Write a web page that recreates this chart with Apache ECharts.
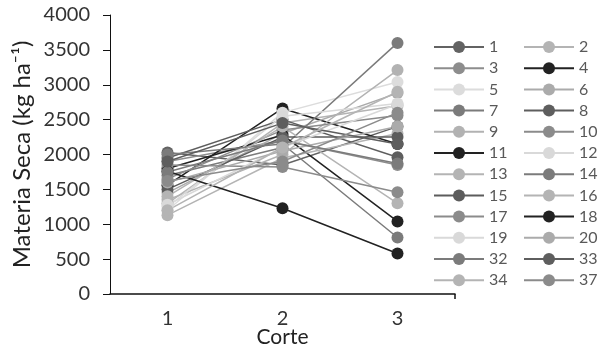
<!DOCTYPE html>
<html>
<head>
<meta charset="utf-8">
<script src="https://cdn.jsdelivr.net/npm/echarts@6/dist/echarts.min.js"></script>
<style>
  html, body { margin: 0; padding: 0; background: #fff; }
  #chart { width: 600px; height: 348px; }
</style>
</head>
<body>
<div id="chart"></div>
<script>
// Cutting rounds on the x axis
const cortes = ['1', '2', '3'];

// Dry matter per line (kg/ha) at each cut
const names = ['1','2','3','4','5','6','7','8','9','10','11','12','13','14','15','16','17','18','19','20','32','33','34','37'];
const s1  = [2030, 1850, 2400];
const s2  = [1300, 2450, 2700];
const s3  = [1900, 2200, 1850];
const s4  = [1560, 2660, 2150];
const s5  = [1200, 2600, 3040];
const s6  = [1450, 2300, 2880];
const s7  = [1700, 2100, 3600];
const s8  = [1950, 2500, 1960];
const s9  = [1350, 2000, 3210];
const s10 = [1650, 2350, 2560];
const s11 = [1800, 2280, 1040];
const s12 = [1250, 2550, 2730];
const s13 = [1130, 1950, 2300];
const s14 = [2000, 2150, 810];
const s15 = [1500, 2250, 2250];
const s16 = [1400, 2400, 1300];
const s17 = [1850, 1820, 1460];
const s18 = [1760, 1230, 580];
const s19 = [1280, 2100, 2720];
const s20 = [1600, 2050, 2400];
const s32 = [1750, 2200, 1870];
const s33 = [1900, 2450, 2150];
const s34 = [1200, 2100, 2900];
const s37 = [1620, 1900, 2600];
const values = [s1,s2,s3,s4,s5,s6,s7,s8,s9,s10,s11,s12,s13,s14,s15,s16,s17,s18,s19,s20,s32,s33,s34,s37];

// Grey shade for each line
const shades = ['#636363','#b4b4b4','#8d8d8d','#222222','#dcdcdc','#ababab','#7b7b7b','#5e5e5e',
                '#b2b2b2','#8b8b8b','#222222','#d9d9d9','#b4b4b4','#7b7b7b','#5c5c5c','#b4b4b4',
                '#8b8b8b','#222222','#d9d9d9','#ababab','#7b7b7b','#5e5e5e','#b4b4b4','#8b8b8b'];

const yTicks = [0, 500, 1000, 1500, 2000, 2500, 3000, 3500, 4000];

const FONT = 'Lato';

const series = names.map((n, i) => ({
  name: n,
  type: 'line',
  xAxisIndex: 0,
  data: values[i],
  symbol: 'circle',
  symbolSize: 12,
  lineStyle: { width: 1.5, color: shades[i] },
  itemStyle: { color: shades[i] },
  emphasis: { disabled: true },
  animation: false
}));

const legendBase = {
  orient: 'vertical',
  top: 39,
  padding: 0,
  itemWidth: 50,
  itemHeight: 15,
  itemGap: 5.2,
  textStyle: { fontFamily: FONT, fontSize: 16, color: '#595959' },
  selectedMode: false
};

const chart = echarts.init(document.getElementById('chart'), null, { renderer: 'canvas' });
chart.setOption({
  backgroundColor: '#fff',
  animation: false,
  grid: { left: 110, right: 145, top: 15, bottom: 54, containLabel: false, outerBoundsMode: 'none' },
  legend: [
    Object.assign({}, legendBase, { left: 433, data: names.filter((_, i) => i % 2 === 0) }),
    Object.assign({}, legendBase, { left: 523, data: names.filter((_, i) => i % 2 === 1) })
  ],
  xAxis: [
    {
      type: 'category',
      data: cortes,
      boundaryGap: true,
      name: 'Corte',
      nameLocation: 'middle',
      nameGap: 33,
      nameMoveOverlap: false,
      nameTextStyle: { fontFamily: FONT, fontSize: 21, color: '#222' },
      axisLine: { lineStyle: { color: '#111', width: 1.5 } },
      axisTick: { alignWithLabel: true, length: 5, lineStyle: { color: '#111', width: 1.5 } },
      axisLabel: { fontFamily: FONT, fontSize: 20, color: '#333', margin: 15 }
    },
    {
      // closing tick at the right end of the category axis
      type: 'value',
      position: 'bottom',
      min: 0,
      max: 3,
      axisLine: { show: false },
      axisTick: { show: true, customValues: [3], length: 5, lineStyle: { color: '#111', width: 1.5 } },
      axisLabel: { show: false },
      splitLine: { show: false }
    }
  ],
  yAxis: {
    type: 'value',
    min: 0,
    max: 4000,
    interval: 500,
    name: 'Materia Seca (kg ha\u207B\u00B9)',
    nameLocation: 'middle',
    nameRotate: 90,
    nameGap: 76,
    nameMoveOverlap: false,
    nameTextStyle: { fontFamily: FONT, fontSize: 24, color: '#222' },
    axisLine: { show: true, lineStyle: { color: '#111', width: 1 } },
    axisTick: { show: true, length: 7, lineStyle: { color: '#111' } },
    splitLine: { show: false },
    axisLabel: {
      fontFamily: FONT, fontSize: 20, color: '#333', margin: 20,
      formatter: v => yTicks.includes(v) ? String(v) : ''
    }
  },
  series: series
});
</script>
</body>
</html>
